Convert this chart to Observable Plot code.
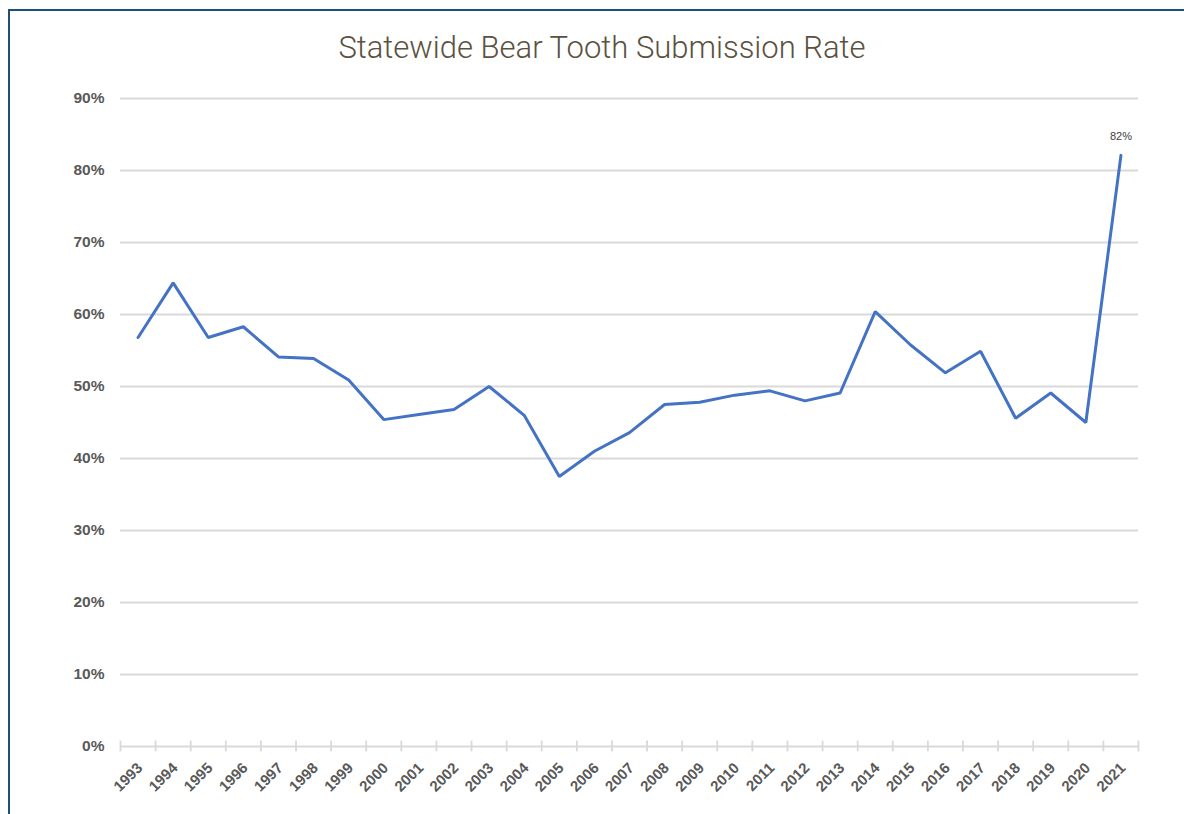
<!DOCTYPE html>
<html>
<head>
<meta charset="utf-8">
<script src="https://cdn.jsdelivr.net/npm/d3@7"></script>
<script src="https://cdn.jsdelivr.net/npm/@observablehq/plot@0.6"></script>
<style>
  html, body { margin: 0; padding: 0; background: #fff; overflow: hidden; width: 1184px; height: 814px; }
  #frame { position: absolute; left: 8px; top: 9px; width: 1200px; height: 840px; border: 2.5px solid #1f4e79; box-sizing: border-box; }
  #title { position: absolute; left: 10px; top: 0; width: 1184px; height: 80px; text-align: center; font-family: Roboto, sans-serif; font-weight: 300; font-size: 31px; color: #5b5140; line-height: 96px; }
  #chart { position: absolute; left: 0; top: 80px; }
</style>
</head>
<body>
<div id="frame"></div>
<div id="title">Statewide Bear Tooth Submission Rate</div>
<div id="chart"></div>
<script>
const years = [1993,1994,1995,1996,1997,1998,1999,2000,2001,2002,2003,2004,2005,2006,2007,2008,2009,2010,2011,2012,2013,2014,2015,2016,2017,2018,2019,2020,2021];
const rates = [56.8,64.4,56.8,58.3,54.1,53.9,50.9,45.4,46.1,46.8,50.0,46.0,37.5,41.0,43.6,47.5,47.8,48.8,49.4,48.0,49.1,60.4,55.8,51.9,54.9,45.6,49.1,45.0,82.1];
const yTicks = [0,10,20,30,40,50,60,70,80,90];
const labelText = "82%";

const data = years.map((y, i) => ({year: y, rate: rates[i]}));
const boundaries = [...years.map(y => y - 0.5), years[years.length - 1] + 0.5];
const last = data[data.length - 1];

const chart = Plot.plot({
  width: 1184,
  height: 734,
  marginLeft: 120,
  marginRight: 46,
  marginTop: 18,
  marginBottom: 68,
  style: {fontFamily: "'Liberation Sans', Arial, sans-serif", background: "transparent"},
  x: {type: "linear", domain: [1992.5, 2021.5]},
  y: {domain: [0, 90]},
  marks: [
    Plot.ruleY(yTicks, {stroke: "#d9d9d9", strokeWidth: 1.8}),
    Plot.ruleX(boundaries, {x: d => d, y1: -0.75, y2: 0.75, stroke: "#d9d9d9", strokeWidth: 1.8}),
    Plot.axisY(yTicks, {tickSize: 0, tickPadding: 16, tickFormat: d => d + "%", fontSize: 15.5, fontWeight: "bold", fill: "#595959", label: null}),
    Plot.axisX(years, {tickSize: 0, tickPadding: 19, tickRotate: -45, textAnchor: "end", dx: 2, tickFormat: d => String(d), fontSize: 15, fontWeight: "bold", fill: "#595959", label: null}),
    Plot.line(data, {x: "year", y: "rate", stroke: "#4472c4", strokeWidth: 3, strokeLinejoin: "miter"}),
    Plot.text([last], {x: "year", y: "rate", text: () => labelText, dy: -19, fontSize: 11, fill: "#404040"})
  ]
});
document.getElementById("chart").appendChild(chart);
</script>
</body>
</html>
